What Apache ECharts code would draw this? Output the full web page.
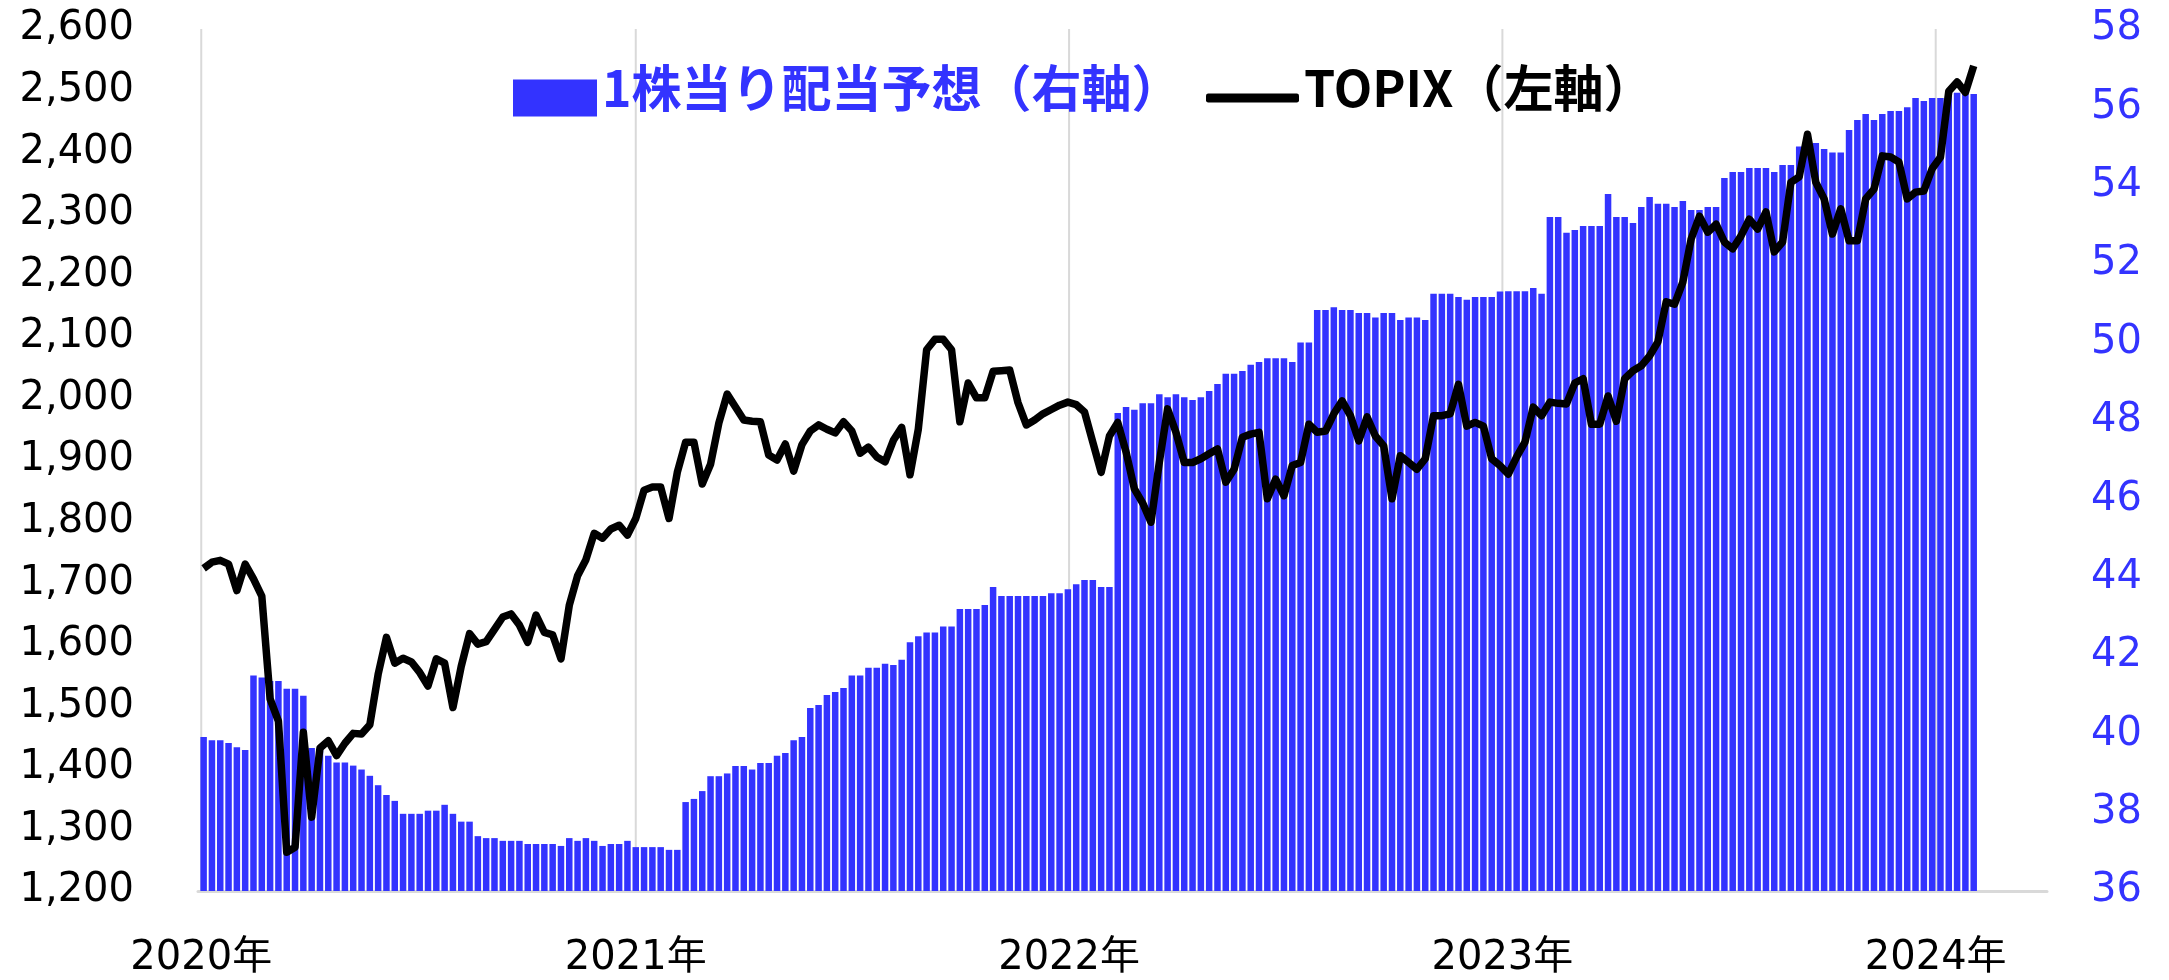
<!DOCTYPE html>
<html>
<head>
<meta charset="utf-8">
<title>TOPIXと1株当り配当予想</title>
<script src="https://cdn.jsdelivr.net/npm/echarts@6/dist/echarts.min.js"></script>
<style>
html, body {margin: 0; padding: 0; background: #fff;}
#chart {width: 2169px; height: 980px;}
</style>
</head>
<body>
<div id="chart"></div>
<script>
// 週次（金曜日）データ、2020-01-03 から
var firstWeek = [2020, 0, 3];

// TOPIX（左軸）
var topix2020 = [1724, 1734, 1737, 1731, 1688, 1731, 1707, 1679, 1512, 1476,
    1263, 1271, 1458, 1320, 1432, 1444, 1420, 1440, 1456, 1455,
    1470, 1552, 1612, 1570, 1578, 1572, 1555, 1533, 1577, 1570,
    1498, 1565, 1618, 1601, 1605, 1625, 1645, 1650, 1632, 1604,
    1648, 1620, 1616, 1577, 1664, 1712, 1738, 1781, 1773, 1788,
    1794, 1778];
var topix2021 = [1805, 1851, 1856, 1856, 1805, 1880, 1929, 1929, 1861, 1893,
    1960, 2007, 1986, 1965, 1963, 1962, 1908, 1900, 1926, 1882,
    1925, 1947, 1957, 1950, 1944, 1962, 1947, 1911, 1921, 1905,
    1897, 1932, 1953, 1876, 1950, 2079, 2096, 2096, 2079, 1962,
    2025, 2001, 2001, 2044, 2045, 2046, 1993, 1957, 1965, 1975,
    1982, 1989, 1994];
var topix2022 = [1990, 1978, 1929, 1880, 1939, 1961, 1913, 1853, 1830, 1799,
    1896, 1983, 1945, 1896, 1896, 1902, 1910, 1918, 1864, 1885,
    1937, 1942, 1945, 1837, 1869, 1842, 1891, 1896, 1958, 1945,
    1947, 1975, 1996, 1972, 1931, 1970, 1939, 1923, 1837, 1907,
    1896, 1885, 1902, 1972, 1972, 1975, 2023, 1955, 1961, 1955,
    1902, 1891];
var topix2023 = [1877, 1905, 1929, 1986, 1972, 1994, 1992, 1991, 2025, 2032,
    1958, 1958, 2004, 1963, 2032, 2045, 2053, 2069, 2092, 2157,
    2153, 2189, 2259, 2296, 2270, 2283, 2254, 2243, 2264, 2291,
    2275, 2303, 2238, 2254, 2351, 2360, 2429, 2351, 2324, 2267,
    2308, 2256, 2256, 2324, 2340, 2394, 2392, 2384, 2324, 2335,
    2337, 2373];
var topix2024 = [2392, 2499, 2514, 2497, 2540];

// 1株当り配当予想（右軸）
var div2020 = [39.93, 39.85, 39.85, 39.78, 39.67, 39.6, 41.5, 41.45, 41.36, 41.36,
    41.16, 41.16, 40.98, 39.65, 39.6, 39.45, 39.28, 39.28, 39.2, 39.1,
    38.94, 38.7, 38.45, 38.3, 37.97, 37.97, 37.97, 38.05, 38.05, 38.2,
    37.97, 37.77, 37.77, 37.4, 37.35, 37.35, 37.28, 37.28, 37.28, 37.2,
    37.2, 37.2, 37.2, 37.15, 37.35, 37.28, 37.35, 37.28, 37.15, 37.2,
    37.2, 37.28];
var div2021 = [37.12, 37.12, 37.12, 37.12, 37.05, 37.05, 38.27, 38.35, 38.55, 38.93,
    38.93, 39.0, 39.19, 39.19, 39.1, 39.27, 39.27, 39.45, 39.52, 39.85,
    39.93, 40.67, 40.75, 41.0, 41.08, 41.18, 41.5, 41.5, 41.7, 41.7,
    41.8, 41.77, 41.9, 42.35, 42.5, 42.6, 42.6, 42.75, 42.75, 43.2,
    43.2, 43.2, 43.3, 43.76, 43.53, 43.53, 43.53, 43.53, 43.53, 43.53,
    43.6, 43.6, 43.7];
var div2022 = [43.83, 43.94, 43.94, 43.76, 43.76, 48.2, 48.35, 48.28, 48.45, 48.45,
    48.68, 48.6, 48.68, 48.6, 48.53, 48.6, 48.76, 48.94, 49.2, 49.2,
    49.27, 49.43, 49.5, 49.6, 49.6, 49.6, 49.5, 50.0, 50.0, 50.83,
    50.83, 50.9, 50.83, 50.83, 50.75, 50.75, 50.64, 50.75, 50.75, 50.57,
    50.64, 50.64, 50.57, 51.24, 51.24, 51.24, 51.16, 51.09, 51.16, 51.16,
    51.16, 51.3];
var div2023 = [51.31, 51.31, 51.31, 51.39, 51.24, 53.2, 53.2, 52.8, 52.87, 52.97,
    52.97, 52.97, 53.79, 53.2, 53.2, 53.05, 53.46, 53.71, 53.54, 53.54,
    53.46, 53.61, 53.38, 53.38, 53.46, 53.46, 54.2, 54.35, 54.35, 54.45,
    54.45, 54.45, 54.35, 54.53, 54.53, 55.0, 55.09, 55.09, 54.94, 54.85,
    54.85, 55.42, 55.68, 55.83, 55.68, 55.83, 55.91, 55.91, 56.0, 56.24,
    56.16, 56.24];
var div2024 = [56.24, 56.37, 56.37, 56.34, 56.34];

// 軸
var yearLines = ['2020-01-01', '2021-01-01', '2022-01-01', '2023-01-01', '2024-01-01'];
var xRange = ['2020-01-01', '2024-04-01'];
var leftRange = [1200, 2600, 100];
var rightRange = [36, 58, 2];

var divName = '1株当り配当予想（右軸）';
var topixName = 'TOPIX（左軸）';

var axisFont = "'DejaVu Sans', 'Noto Sans CJK JP', sans-serif";
var legendFont = "'Noto Sans CJK JP', sans-serif";

function weekDate(i) {
    return new Date(firstWeek[0], firstWeek[1], firstWeek[2] + 7 * i).getTime();
}

var topix = topix2020.concat(topix2021, topix2022, topix2023, topix2024);
var dividend = div2020.concat(div2021, div2022, div2023, div2024);

var topixData = topix.map(function (v, i) { return [weekDate(i), v]; });
var divData = dividend.map(function (v, i) { return [weekDate(i), v]; });

// 凡例の文字は記号より少し上に置く
function legendText(color) {
    return {
        color: color,
        fontSize: 50,
        fontWeight: 'bold',
        fontFamily: legendFont,
        rich: {
            t: {color: color, fontSize: 50, fontWeight: 'bold', fontFamily: legendFont, padding: [0, 0, 20, 0]}
        }
    };
}

var chart = echarts.init(document.getElementById('chart'));

var option = {
    animation: false,
    backgroundColor: '#ffffff',
    textStyle: {fontFamily: axisFont},
    grid: {left: 198, right: 122, top: 29, bottom: 89, outerBoundsMode: 'none'},
    legend: [
        {
            data: [divName],
            left: 513,
            top: 63,
            padding: 0,
            icon: 'rect',
            itemWidth: 84,
            itemHeight: 37,
            selectedMode: false,
            formatter: '{t|{name}}',
            textStyle: legendText('#3333ff')
        },
        {
            data: [topixName],
            left: 1206,
            top: 63,
            padding: 0,
            icon: 'roundRect',
            itemWidth: 93,
            itemHeight: 9,
            selectedMode: false,
            formatter: '{t|{name}}',
            textStyle: legendText('#000000')
        }
    ],
    xAxis: {
        type: 'time',
        min: xRange[0],
        max: xRange[1],
        axisLine: {show: true, lineStyle: {color: '#d9d9d9', width: 3}},
        axisTick: {show: false},
        splitLine: {show: false},
        axisLabel: {
            fontSize: 40,
            color: '#000000',
            fontFamily: axisFont,
            margin: 48,
            hideOverlap: false,
            formatter: function (value) {
                var d = new Date(value);
                if (d.getMonth() === 0 && d.getDate() === 1) {
                    return d.getFullYear() + '年';
                }
                return '';
            }
        }
    },
    yAxis: [
        {
            type: 'value',
            position: 'left',
            min: leftRange[0],
            max: leftRange[1],
            interval: leftRange[2],
            axisLine: {show: false},
            axisTick: {show: false},
            splitLine: {show: false},
            axisLabel: {
                fontSize: 40,
                color: '#000000',
                fontFamily: axisFont,
                margin: 64,
                padding: [0, 0, 10, 0],
                formatter: function (v) { return v.toLocaleString('en-US'); }
            }
        },
        {
            type: 'value',
            position: 'right',
            min: rightRange[0],
            max: rightRange[1],
            interval: rightRange[2],
            axisLine: {show: false},
            axisTick: {show: false},
            splitLine: {show: false},
            axisLabel: {
                fontSize: 40,
                color: '#3333ff',
                fontFamily: axisFont,
                margin: 44,
                padding: [0, 0, 10, 0]
            }
        }
    ],
    series: [
        {
            // 年の区切り線
            type: 'custom',
            name: 'yearGrid',
            z: 1,
            silent: true,
            yAxisIndex: 0,
            encode: {x: 0, y: 1},
            data: yearLines.map(function (d) { return [d, leftRange[0]]; }),
            renderItem: function (params, api) {
                var top = api.coord([api.value(0), leftRange[1]]);
                var bottom = api.coord([api.value(0), leftRange[0]]);
                return {
                    type: 'line',
                    shape: {x1: top[0], y1: top[1], x2: bottom[0], y2: bottom[1]},
                    style: {stroke: '#d9d9d9', lineWidth: 2}
                };
            }
        },
        {
            type: 'bar',
            name: divName,
            yAxisIndex: 1,
            z: 2,
            barWidth: 6.5,
            itemStyle: {color: '#3333ff'},
            data: divData
        },
        {
            type: 'line',
            name: topixName,
            yAxisIndex: 0,
            z: 3,
            symbol: 'none',
            showSymbol: false,
            itemStyle: {color: '#000000'},
            lineStyle: {color: '#000000', width: 7.5, join: 'round'},
            data: topixData
        }
    ]
};

chart.setOption(option);
</script>
</body>
</html>
